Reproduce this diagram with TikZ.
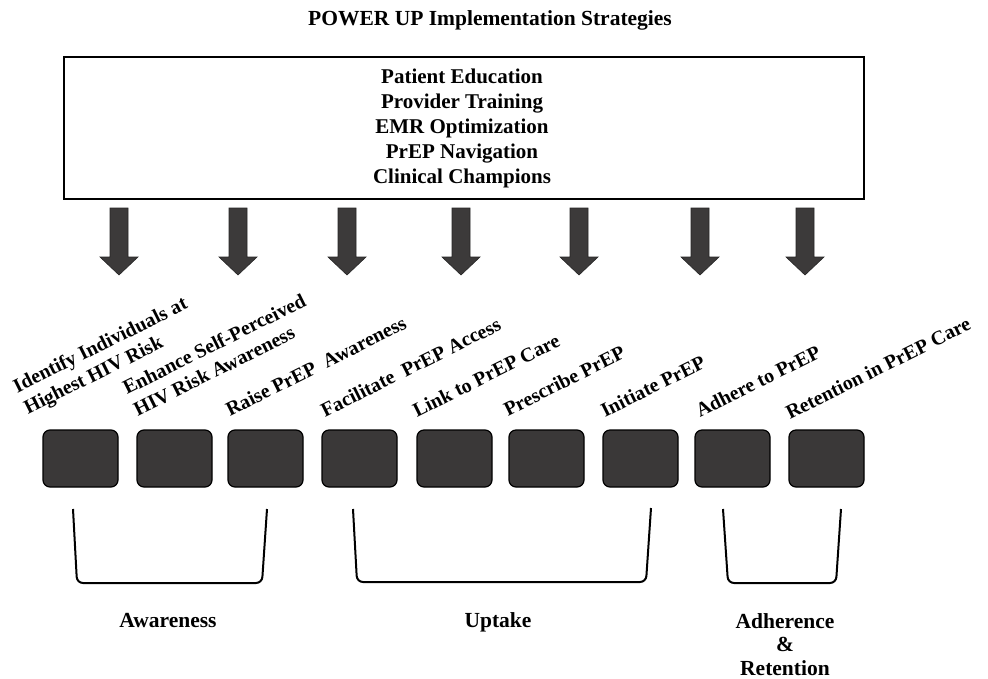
\documentclass[tikz,border=0pt]{standalone}
\usepackage{fontspec}
\setmainfont{Liberation Serif}
\definecolor{boxgray}{HTML}{3A3838}
\definecolor{arrowgray}{HTML}{3C3A3A}
\begin{document}
\begin{tikzpicture}[x=1pt,y=1pt,
  stepbox/.style={draw=black, line width=1.2pt, fill=boxgray, rounded corners=7pt,
    minimum width=75pt, minimum height=57pt, inner sep=0pt},
  blockarrow/.style={fill=arrowgray, draw=black!85, line width=0.6pt},
  steplabel/.style={font=\fontsize{20}{24}\selectfont\bfseries, rotate=26.5,
    anchor=south west, inner sep=0pt, align=left},
  bracketline/.style={line width=2pt, rounded corners=6pt},
  phaselabel/.style={font=\fontsize{21.5}{23.5}\selectfont\bfseries, align=center, inner sep=0pt}]

\useasboundingbox (0,0) rectangle (988,-678);

% title
\node[font=\fontsize{21.5}{25}\selectfont\bfseries, anchor=base, inner sep=0pt] (title) at (490,-25)
  {POWER UP Implementation Strategies};

% strategies box
\node[draw=black, line width=1.5pt, minimum width=800pt, minimum height=142pt,
  anchor=north west, inner sep=0pt] (strat) at (63,-56) {};
\node[anchor=north, align=center, font=\fontsize{21}{25}\selectfont\bfseries, inner sep=0pt]
  (strattext) at (462,-69)
  {Patient Education\\Provider Training\\EMR Optimization\\PrEP Navigation\\Clinical Champions};

% block arrows
\foreach \x in {119,238,347,461,579,700,805}{
  \filldraw[blockarrow] (\x-9,-208) -- (\x+9,-208) -- (\x+9,-257) -- (\x+19,-257)
    -- (\x,-275) -- (\x-19,-257) -- (\x-9,-257) -- cycle;
}

% step boxes
\foreach \x [count=\i] in {80.5,174.5,265.5,359.5,454.5,546.5,640.5,732.5,826.5}{
  \node[stepbox] (b\i) at (\x,-458.5) {};
}

% rotated labels
\node[steplabel] (l1) at (30,-419) {Identify Individuals at\\Highest HIV Risk};
\node[steplabel] (l2) at (138,-417) {Enhance Self-Perceived\\HIV Risk Awareness};
\node[steplabel] (l3) at (230,-417) {Raise PrEP\ \ Awareness};
\node[steplabel] (l4) at (325,-418) {Facilitate\ \ PrEP Access};
\node[steplabel] (l5) at (417,-418) {Link to PrEP Care};
\node[steplabel] (l6) at (508,-417) {Prescribe PrEP};
\node[steplabel] (l7) at (605,-418) {Initiate PrEP};
\node[steplabel] (l8) at (700,-418) {Adhere to PrEP};
\node[steplabel] (l9) at (790,-420) {Retention in PrEP Care};

% brackets
\draw[bracketline] (73,-509) -- (77,-583) -- (262,-583) -- (267,-509);
\draw[bracketline] (353,-509) -- (357,-582) -- (646,-582) -- (651,-508);
\draw[bracketline] (723,-509) -- (728,-583) -- (836,-583) -- (841,-509);

% phase labels
\node[phaselabel, anchor=base] (aw) at (168,-627) {Awareness};
\node[phaselabel, anchor=base] (up) at (498,-627) {Uptake};
\node[phaselabel, anchor=north] (ar) at (785,-613) {Adherence\\\&\\Retention};
\end{tikzpicture}
\end{document}
